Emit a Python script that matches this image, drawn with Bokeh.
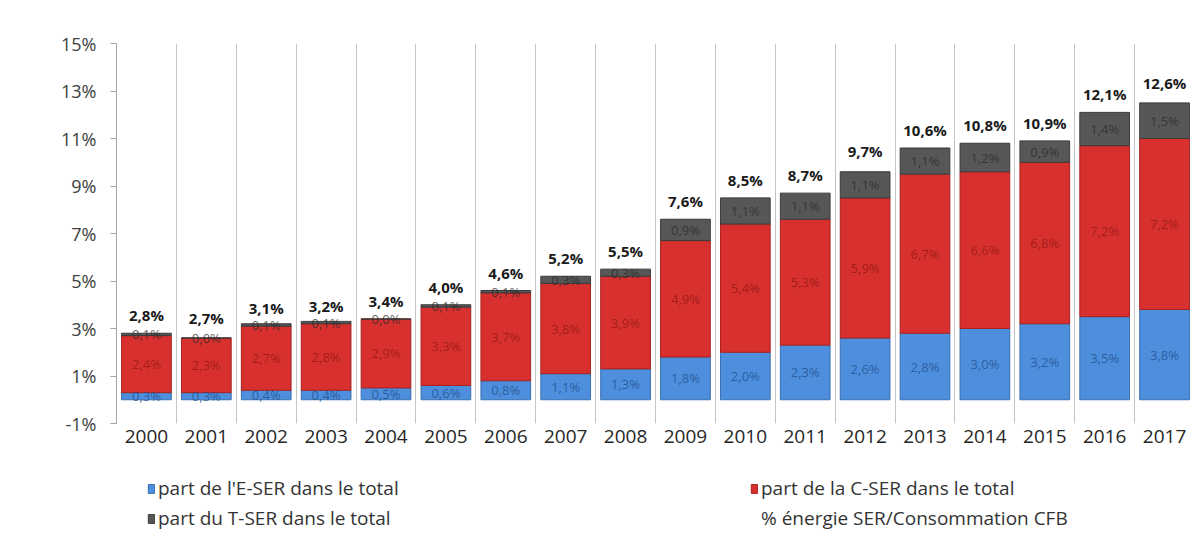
from bokeh.plotting import figure
from bokeh.layouts import column
from bokeh.models import Range1d, FixedTicker, PrintfTickFormatter, ColumnDataSource, Legend, LegendItem
from bokeh.embed import file_html
from bokeh.resources import INLINE
from bokeh.core.properties import value

years = ["2000", "2001", "2002", "2003", "2004", "2005", "2006", "2007", "2008",
         "2009", "2010", "2011", "2012", "2013", "2014", "2015", "2016", "2017"]
e_ser = [0.3, 0.3, 0.4, 0.4, 0.5, 0.6, 0.8, 1.1, 1.3, 1.8, 2.0, 2.3, 2.6, 2.8, 3.0, 3.2, 3.5, 3.8]
c_ser = [2.4, 2.3, 2.7, 2.8, 2.9, 3.3, 3.7, 3.8, 3.9, 4.9, 5.4, 5.3, 5.9, 6.7, 6.6, 6.8, 7.2, 7.2]
t_ser = [0.1, 0.0, 0.1, 0.1, 0.0, 0.1, 0.1, 0.3, 0.3, 0.9, 1.1, 1.1, 1.1, 1.1, 1.2, 0.9, 1.4, 1.5]
totals = [2.8, 2.7, 3.1, 3.2, 3.4, 4.0, 4.6, 5.2, 5.5, 7.6, 8.5, 8.7, 9.7, 10.6, 10.8, 10.9, 12.1, 12.6]
y_ticks = [-1, 1, 3, 5, 7, 9, 11, 13, 15]

series_names = ["part de l'E-SER dans le total", "part de la C-SER dans le total",
                "part du T-SER dans le total", "% énergie SER/Consommation CFB"]
colors = ["#4d8fdc", "#d8302e", "#575757"]
edge_colors = ["#3a6fb0", "#a82220", "#3a3a3a"]


def fmt(v):
    return ("%.1f%%" % v).replace(".", ",")


xs = list(range(len(years)))
e_top = [e for e in e_ser]
c_top = [e + c for e, c in zip(e_ser, c_ser)]
t_top = [e + c + t for e, c, t in zip(e_ser, c_ser, t_ser)]

src = ColumnDataSource(dict(
    x=xs,
    zero=[0] * len(xs),
    e_top=e_top, c_top=c_top, t_top=t_top,
    e_mid=[v / 2 for v in e_ser],
    c_mid=[b + c / 2 for b, c in zip(e_top, c_ser)],
    t_mid=[b + t / 2 for b, t in zip(c_top, t_ser)],
    e_lbl=[fmt(v) for v in e_ser],
    c_lbl=[fmt(v) for v in c_ser],
    t_lbl=[fmt(v) for v in t_ser],
    tot=totals,
    tot_lbl=[fmt(v) for v in totals],
))

p = figure(width=1194, height=459,
           x_range=Range1d(-0.5, len(years) - 0.5), y_range=Range1d(-1, 15),
           output_backend="svg", toolbar_location=None,
           min_border_left=116, min_border_top=43, min_border_right=0, min_border_bottom=36)
p.outline_line_color = None
p.background_fill_color = "white"

# axes
p.yaxis.ticker = FixedTicker(ticks=y_ticks)
p.yaxis.formatter = PrintfTickFormatter(format="%d%%")
p.yaxis.axis_line_color = "#a6a6a6"
p.yaxis.major_tick_line_color = "#a6a6a6"
p.yaxis.major_tick_out = 6
p.yaxis.major_tick_in = 0
p.yaxis.minor_tick_line_color = None
p.yaxis.major_label_standoff = 14
p.yaxis.major_label_text_font = "Open Sans"
p.yaxis.major_label_text_font_size = "18px"
p.yaxis.major_label_text_color = "#404040"

p.xaxis.ticker = FixedTicker(ticks=xs)
p.xaxis.major_label_overrides = {i: y for i, y in zip(xs, years)}
p.xaxis.axis_line_color = None
p.xaxis.major_tick_line_color = None
p.xaxis.minor_tick_line_color = None
p.xaxis.major_label_standoff = 0
p.xaxis.major_label_text_font = "Open Sans"
p.xaxis.major_label_text_font_size = "19px"
p.xaxis.major_label_text_color = "#262626"

p.ygrid.grid_line_color = None
p.xgrid.ticker = FixedTicker(ticks=[i + 0.5 for i in xs])
p.xgrid.grid_line_color = "#c4c4c4"

w = 0.83
p.vbar(x="x", bottom="zero", top="e_top", width=w, source=src,
       fill_color=colors[0], line_color=edge_colors[0])
p.vbar(x="x", bottom="e_top", top="c_top", width=w, source=src,
       fill_color=colors[1], line_color=edge_colors[1])
p.vbar(x="x", bottom="c_top", top="t_top", width=w, source=src,
       fill_color=colors[2], line_color=edge_colors[2])

common = dict(source=src, text_align="center", text_baseline="middle",
              text_font=value("Open Sans"), text_font_size="13px")
p.text(x="x", y="e_mid", text="e_lbl", text_color="#1f4e8c", text_alpha=0.75, **common)
p.text(x="x", y="c_mid", text="c_lbl", text_color="#7a1010", text_alpha=0.6, **common)
p.text(x="x", y="t_mid", text="t_lbl", text_color="#2a2a2a", text_alpha=0.75, **common)
p.text(x="x", y="tot", text="tot_lbl", source=src, text_align="center", text_baseline="bottom",
       y_offset=-8, text_font=value("Open Sans"), text_font_size="15px",
       text_font_style="bold", text_color="#1a1a1a")

# legend strip
lg = figure(width=1194, height=72, x_range=Range1d(0, 1), y_range=Range1d(0, 1),
            output_backend="svg", toolbar_location=None,
            x_axis_location=None, y_axis_location=None, min_border=0)
lg.outline_line_color = None
lg.xgrid.grid_line_color = None
lg.ygrid.grid_line_color = None
d_e = lg.vbar(x=[-10], top=[-10], width=1, fill_color=colors[0], line_color=edge_colors[0])
d_c = lg.vbar(x=[-10], top=[-10], width=1, fill_color=colors[1], line_color=edge_colors[1])
d_t = lg.vbar(x=[-10], top=[-10], width=1, fill_color=colors[2], line_color=edge_colors[2])
d_n = lg.scatter(x=[-10], y=[-10], size=0, fill_alpha=0, line_alpha=0)

legend = Legend(items=[
    LegendItem(label=series_names[0], renderers=[d_e]),
    LegendItem(label=series_names[2], renderers=[d_t]),
    LegendItem(label=series_names[1], renderers=[d_c]),
    LegendItem(label=series_names[3], renderers=[d_n]),
], location=(31, 0), orientation="vertical", ncols=2,
    glyph_width=8, glyph_height=11, label_standoff=3, label_width=588, label_height=20,
    spacing=4, padding=0, margin=0, border_line_alpha=0, background_fill_alpha=0,
    label_text_font="Open Sans", label_text_font_size="19px", label_text_color="#333333")
lg.add_layout(legend)

open("out.html", "w").write(file_html(column(p, lg, spacing=0), INLINE))
